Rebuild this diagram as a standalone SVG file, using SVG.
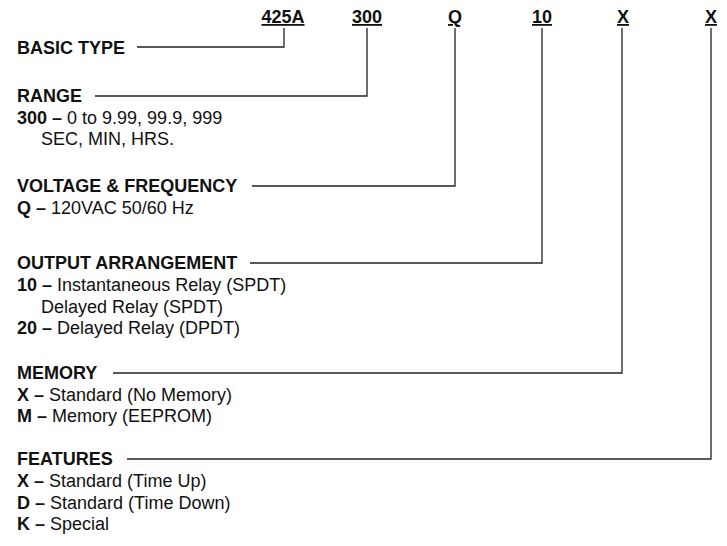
<svg xmlns="http://www.w3.org/2000/svg" width="727" height="546" viewBox="0 0 727 546">
<style>
text{font-family:"Liberation Sans",Arial,sans-serif;font-size:18px;fill:#111}
.b{font-weight:bold}
.code{font-weight:bold;text-anchor:middle;text-decoration:underline}
.c{fill:none;stroke:#222;stroke-width:1.3}
</style>
<rect width="727" height="546" fill="#fff"/>
<g id="codes">
<text class="code" x="283" y="23">425A</text>
<text class="code" x="367" y="23">300</text>
<text class="code" x="455" y="23">Q</text>
<text class="code" x="542" y="23">10</text>
<text class="code" x="623" y="23">X</text>
<text class="code" x="711" y="23">X</text>
</g>
<g id="basic-type"><text class="b" x="17" y="54">BASIC TYPE</text></g>
<g id="range">
<text class="b" x="17" y="102">RANGE</text>
<text x="17" y="124"><tspan class="b">300 –</tspan> 0 to 9.99, 99.9, 999</text>
<text x="41" y="145">SEC, MIN, HRS.</text>
</g>
<g id="voltage">
<text class="b" x="17" y="192">VOLTAGE &amp; FREQUENCY</text>
<text x="17" y="214"><tspan class="b">Q –</tspan> 120VAC 50/60 Hz</text>
</g>
<g id="output">
<text class="b" x="17" y="269">OUTPUT ARRANGEMENT</text>
<text x="17" y="291"><tspan class="b">10 –</tspan> Instantaneous Relay (SPDT)</text>
<text x="41" y="313">Delayed Relay (SPDT)</text>
<text x="17" y="334"><tspan class="b">20 –</tspan> Delayed Relay (DPDT)</text>
</g>
<g id="memory">
<text class="b" x="17" y="379">MEMORY</text>
<text x="17" y="401"><tspan class="b">X –</tspan> Standard (No Memory)</text>
<text x="17" y="422"><tspan class="b">M –</tspan> Memory (EEPROM)</text>
</g>
<g id="features">
<text class="b" x="17" y="465">FEATURES</text>
<text x="17" y="487"><tspan class="b">X –</tspan> Standard (Time Up)</text>
<text x="17" y="509"><tspan class="b">D –</tspan> Standard (Time Down)</text>
<text x="17" y="530"><tspan class="b">K –</tspan> Special</text>
</g>
<g id="connectors">
<polyline class="c" points="137,47 284,47 284,28"/>
<polyline class="c" points="95,96 367,96 367,28"/>
<polyline class="c" points="252,186 455,186 455,28"/>
<polyline class="c" points="250,263 542,263 542,28"/>
<polyline class="c" points="113,373 622,373 622,28"/>
<polyline class="c" points="127,459 711,459 711,28"/>
</g>
</svg>
